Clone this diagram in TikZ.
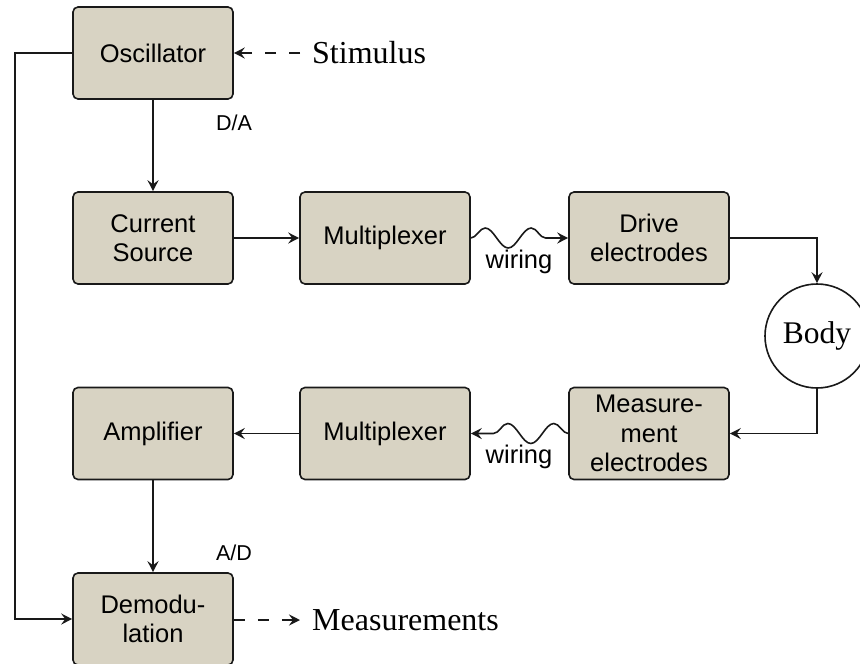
\documentclass[tikz,border=0pt]{standalone}
\usepackage{fontspec}
\setmainfont{Liberation Serif}
\newfontfamily\sansf{Liberation Sans}
\usetikzlibrary{arrows.meta,decorations.pathmorphing,calc}
\definecolor{boxfill}{RGB}{216,211,195}
\definecolor{edgecol}{RGB}{25,25,25}
\tikzset{
  blk/.style={draw=edgecol, fill=boxfill, rounded corners=5pt, line width=1.6pt,
    minimum width=160pt, minimum height=92pt, align=center, inner sep=5pt,
    font=\sansf\fontsize{25.5}{29.5}\selectfont},
  conn/.style={line width=1.6pt, draw=edgecol, -{Stealth[length=11pt,width=11pt,inset=4pt]}},
  dashconn/.style={conn, dash pattern=on 11pt off 13pt},
  wavy/.style={conn, decorate, decoration={snake, amplitude=10pt, segment length=46pt, post length=10pt}},
  serifl/.style={font=\fontsize{32}{36}\selectfont, inner sep=0pt, anchor=west},
  smalll/.style={font=\sansf\fontsize{21.5}{25}\selectfont, inner sep=0pt},
  wirel/.style={font=\sansf\fontsize{25.5}{29}\selectfont, inner sep=0pt}
}
\begin{document}
\begin{tikzpicture}[x=1pt,y=-1pt]
\useasboundingbox (0,0) rectangle (860,664);
\clip (0,0) rectangle (860,664);
\node[blk] (osc) at (153,53) {Oscillator};
\node[blk] (cs) at (153,238) {Current\\Source};
\node[blk, minimum width=170pt] (mux1) at (385,238) {Multiplexer};
\node[blk] (drive) at (649,238) {Drive\\electrodes};
\node[draw=edgecol, line width=1.6pt, circle, minimum size=104pt, inner sep=0pt,
  font=\fontsize{31.5}{36}\selectfont] (body) at (817,336) {Body};
\node[blk] (meas) at (649,433.5) {Measure-\\ment\\electrodes};
\node[blk, minimum width=170pt] (mux2) at (385,433.5) {Multiplexer};
\node[blk] (amp) at (153,433.5) {Amplifier};
\node[blk] (demod) at (153,619) {Demodu-\\lation};

\node[serifl] (stim) at (312,53) {Stimulus};
\node[serifl] (meast) at (312,620) {Measurements};
\node[smalll] (da) at (234,123) {D/A};
\node[smalll] (ad) at (234,553) {A/D};
\node[wirel] (w1) at (519,262) {wiring};
\node[wirel] (w2) at (519,457) {wiring};
\coordinate (stimend) at (300,53);
\coordinate (measend) at (300,620);
\coordinate (lft) at (15,0);

\draw[dashconn] (stimend) -- (osc.east);
\draw[dashconn] (demod.east |- measend) -- (measend);

\draw[conn] (osc.south) -- (cs.north);
\draw[conn] (cs.east) -- (mux1.west);
\draw[wavy] (mux1.east) -- (drive.west);
\draw[conn] (drive.east) -| (body.north);
\draw[conn] (body.south) |- (meas.east);
\draw[wavy, decoration={mirror}] (meas.west) -- (mux2.east);
\draw[conn] (mux2.west) -- (amp.east);
\draw[conn] (amp.south) -- (demod.north);
\draw[conn] (osc.west) -- (lft |- osc.west) -- (lft |- demod.west) -- (demod.west);
\end{tikzpicture}
\end{document}
